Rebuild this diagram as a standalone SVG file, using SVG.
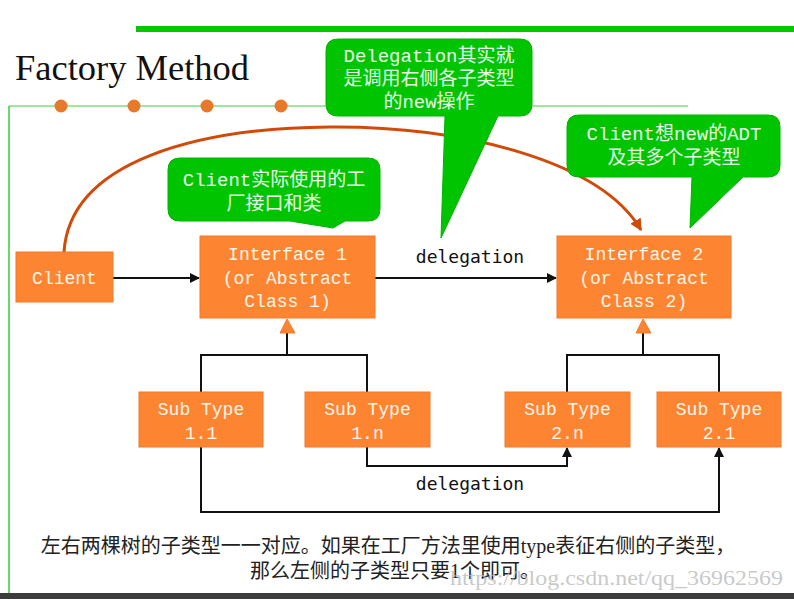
<svg xmlns="http://www.w3.org/2000/svg" width="794" height="599" viewBox="0 0 794 599">
<style>
.box{fill:#fd8532;stroke:#ee7a2a;stroke-width:1}
.bt{font-family:"Liberation Mono","DejaVu Sans Mono",monospace;font-size:18px;fill:#fff5e8;text-anchor:middle}
.call{fill:#00c400;stroke:#00b400;stroke-width:1}
.ct{font-family:"Liberation Mono","Noto Sans CJK SC",monospace;font-size:19px;fill:#eaffea;text-anchor:middle}
.lbl{font-family:"DejaVu Sans Mono","Liberation Mono",monospace;font-size:18px;fill:#111;text-anchor:middle}
.ln{fill:none;stroke:#111;stroke-width:2}
.dot{fill:#e8782a}
.ft{font-family:"Liberation Serif","Noto Sans CJK SC",serif;font-size:20px;fill:#222;text-anchor:middle}
</style>
<defs>
<marker id="ah" viewBox="0 0 10 10" refX="9" refY="5" markerWidth="5" markerHeight="5" orient="auto" markerUnits="strokeWidth">
<path d="M0,0 L10,5 L0,10 z" fill="#111"/>
</marker>
<marker id="ahr" viewBox="0 0 10 10" refX="9" refY="5" markerWidth="4" markerHeight="4" orient="auto" markerUnits="strokeWidth">
<path d="M0,0 L10,5 L0,10 z" fill="#d04a0a"/>
</marker>
</defs>
<rect width="794" height="599" fill="#fff"/>
<g id="frame">
<rect x="136" y="26" width="658" height="6" fill="#00c800"/>
<line x1="9" y1="106" x2="688" y2="106" stroke="#7be07b" stroke-width="1.5"/>
<line x1="9" y1="106" x2="9" y2="593" stroke="#33cc33" stroke-width="1.5"/>
<circle class="dot" cx="61" cy="106" r="6.5"/>
<circle class="dot" cx="134" cy="106" r="6.5"/>
<circle class="dot" cx="207" cy="106" r="6.5"/>
<circle class="dot" cx="281" cy="106" r="6.5"/>
<rect x="0" y="593" width="794" height="6" fill="#3c3c3c"/>
<text x="15" y="80" font-family="'Liberation Serif',serif" font-size="35" fill="#111" textLength="234" lengthAdjust="spacingAndGlyphs">Factory Method</text>
</g>
<g id="connectors">
<path d="M64,252 C70,160 200,128 330,127 C460,126 600,160 641,230" fill="none" stroke="#d04a0a" stroke-width="3" marker-end="url(#ahr)"/>
<line class="ln" x1="113" y1="278" x2="199" y2="278" marker-end="url(#ah)"/>
<line class="ln" x1="375" y1="278" x2="556" y2="278" marker-end="url(#ah)"/>
<text class="lbl" x="470" y="263">delegation</text>
<polyline class="ln" points="201,392 201,355 367,355 367,392"/>
<line class="ln" x1="287" y1="355" x2="287" y2="333"/>
<polygon points="287,319 280,333 295,333" fill="#fd8532" stroke="#ee7a2a" stroke-width="1"/>
<polyline class="ln" points="567,392 567,355 719,355 719,392"/>
<line class="ln" x1="643" y1="355" x2="643" y2="333"/>
<polygon points="643,319 636,333 651,333" fill="#fd8532" stroke="#ee7a2a" stroke-width="1"/>
<polyline class="ln" points="367,447 367,466 567,466 567,448" marker-end="url(#ah)"/>
<polyline class="ln" points="201,447 201,512 719,512 719,448" marker-end="url(#ah)"/>
<text class="lbl" x="470" y="490">delegation</text>
</g>
<g id="client">
<rect class="box" x="16" y="252" width="97" height="50"/>
<text class="bt" x="64.5" y="284">Client</text>
</g>
<g id="interface1">
<rect class="box" x="200" y="236" width="175" height="82"/>
<text class="bt" x="287.5" y="260">Interface 1</text>
<text class="bt" x="287.5" y="284">(or Abstract</text>
<text class="bt" x="287.5" y="307">Class 1)</text>
</g>
<g id="interface2">
<rect class="box" x="557" y="236" width="174" height="82"/>
<text class="bt" x="644" y="260">Interface 2</text>
<text class="bt" x="644" y="284">(or Abstract</text>
<text class="bt" x="644" y="307">Class 2)</text>
</g>
<g id="sub11">
<rect class="box" x="139" y="392" width="124" height="55"/>
<text class="bt" x="201" y="415">Sub Type</text>
<text class="bt" x="201" y="439">1.1</text>
</g>
<g id="sub1n">
<rect class="box" x="305" y="392" width="125" height="55"/>
<text class="bt" x="367.5" y="415">Sub Type</text>
<text class="bt" x="367.5" y="439">1.n</text>
</g>
<g id="sub2n">
<rect class="box" x="505" y="392" width="125" height="55"/>
<text class="bt" x="567.5" y="415">Sub Type</text>
<text class="bt" x="567.5" y="439">2.n</text>
</g>
<g id="sub21">
<rect class="box" x="657" y="392" width="124" height="55"/>
<text class="bt" x="719" y="415">Sub Type</text>
<text class="bt" x="719" y="439">2.1</text>
</g>
<g id="callout-delegation">
<path class="call" d="M338,39 H520 Q532,39 532,51 V104 Q532,116 520,116 H498 L441,238 L445,116 H338 Q326,116 326,104 V51 Q326,39 338,39 Z"/>
<text class="ct" x="429" y="62">Delegation其实就</text>
<text class="ct" x="429" y="85">是调用右侧各子类型</text>
<text class="ct" x="429" y="108">的new操作</text>
</g>
<g id="callout-adt">
<path class="call" d="M579,115 H768 Q780,115 780,127 V165 Q780,177 768,177 H743 L690,228 L692,177 H579 Q567,177 567,165 V127 Q567,115 579,115 Z"/>
<text class="ct" x="674" y="140">Client想new的ADT</text>
<text class="ct" x="674" y="164">及其多个子类型</text>
</g>
<g id="callout-client">
<path class="call" d="M180,158 H368 Q380,158 380,170 V209 Q380,221 368,221 H345 L333,228 L290,221 H180 Q168,221 168,209 V170 Q168,158 180,158 Z"/>
<text class="ct" x="274" y="186">Client实际使用的工</text>
<text class="ct" x="274" y="210">厂接口和类</text>
</g>
<g id="footer">
<text class="ft" x="388" y="553">左右两棵树的子类型一一对应。如果在工厂方法里使用type表征右侧的子类型，</text>
<text class="ft" x="395" y="578">那么左侧的子类型只要1个即可。</text>
<text x="450" y="585" font-family="'Liberation Serif',serif" font-size="20" fill="#bbbbbb" fill-opacity="0.8" textLength="333" lengthAdjust="spacingAndGlyphs">https://blog.csdn.net/qq_36962569</text>
</g>
</svg>
